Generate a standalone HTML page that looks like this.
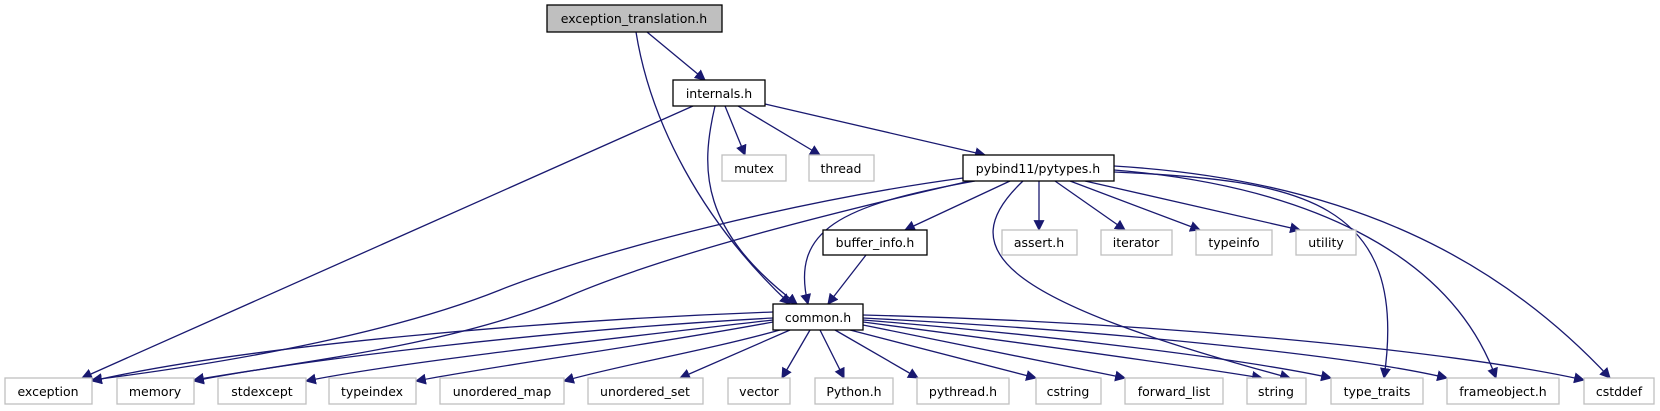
<!DOCTYPE html>
<html><head><meta charset="utf-8"><style>
html,body{margin:0;padding:0;background:#fff;}
svg{display:block;}
text{font-family:"DejaVu Sans","Liberation Sans",sans-serif;font-size:12.5px;text-anchor:middle;fill:#000;}
.e{fill:none;stroke:#191970;stroke-width:1.3;}
.n{fill:#fff;stroke:#000;stroke-width:1.3;}
.g{fill:#fff;stroke:#bfbfbf;stroke-width:1.3;}
</style></head><body>
<svg width="1660" height="411" viewBox="0 0 1660 411">
<defs><marker id="a" viewBox="0 0 10 10" refX="9" refY="5" markerWidth="11" markerHeight="11" markerUnits="userSpaceOnUse" orient="auto"><path d="M0,0 L10,5 L0,10 z" fill="#191970"/></marker></defs>
<g class="e" marker-end="url(#a)">
<path d="M647,32 L705,80"/>
<path d="M636,32 C650,120 700,220 790,304"/>
<path d="M693,106 L82,378"/>
<path d="M715,106 C700,170 700,230 797,304"/>
<path d="M725,106 L745,155"/>
<path d="M738,106 L820,155"/>
<path d="M765,104 L985,155"/>
<path d="M963,178 C800,200 600,250 500,290 C400,330 250,360 92,380"/>
<path d="M970,181 C800,220 650,260 560,300 C450,345 300,362 194,380"/>
<path d="M975,181 C840,205 790,230 808,304"/>
<path d="M1010,181 L905,230"/>
<path d="M1023,181 C950,250 1000,300 1290,378"/>
<path d="M1039,181 L1039,230"/>
<path d="M1055,181 L1125,230"/>
<path d="M1070,181 L1200,230"/>
<path d="M1085,181 L1300,230"/>
<path d="M1114,172 C1300,180 1410,200 1384,378"/>
<path d="M1114,170 C1300,185 1450,250 1496,378"/>
<path d="M1114,166 C1350,180 1500,260 1610,378"/>
<path d="M866,255 L828,304"/>
<path d="M773,312 C550,320 250,345 92,381"/>
<path d="M773,318 C550,330 300,360 194,381"/>
<path d="M773,320 C600,340 400,362 306,381"/>
<path d="M773,322 C650,345 500,365 416,381"/>
<path d="M780,330 C700,352 620,365 564,381"/>
<path d="M790,330 L680,378"/>
<path d="M810,330 L782,378"/>
<path d="M820,330 L844,378"/>
<path d="M835,330 L918,378"/>
<path d="M850,330 L1036,378"/>
<path d="M863,325 L1125,378"/>
<path d="M863,322 C1000,340 1150,360 1262,378"/>
<path d="M863,320 C1050,335 1250,360 1331,378"/>
<path d="M863,318 C1100,330 1350,355 1447,378"/>
<path d="M863,315 C1150,322 1450,350 1584,380"/>
</g>
<rect x="547" y="5" width="175" height="27" fill="#bfbfbf" stroke="#000" stroke-width="1.3"/><text x="634" y="23">exception_translation.h</text>
<rect class="n" x="673" y="80" width="92" height="26"/><text x="719" y="98">internals.h</text>
<rect class="g" x="722" y="155" width="64" height="26"/><text x="754" y="173">mutex</text>
<rect class="g" x="809" y="155" width="65" height="26"/><text x="841" y="173">thread</text>
<rect class="n" x="963" y="155" width="151" height="26"/><text x="1038" y="173">pybind11/pytypes.h</text>
<rect class="n" x="823" y="230" width="104" height="25"/><text x="875" y="247">buffer_info.h</text>
<rect class="g" x="1002" y="230" width="75" height="25"/><text x="1039" y="247">assert.h</text>
<rect class="g" x="1101" y="230" width="71" height="25"/><text x="1136" y="247">iterator</text>
<rect class="g" x="1196" y="230" width="76" height="25"/><text x="1234" y="247">typeinfo</text>
<rect class="g" x="1296" y="230" width="60" height="25"/><text x="1326" y="247">utility</text>
<rect class="n" x="773" y="304" width="90" height="26"/><text x="818" y="322">common.h</text>
<g>
<rect class="g" x="5" y="378" width="87" height="26"/><text x="48" y="396">exception</text>
<rect class="g" x="117" y="378" width="77" height="26"/><text x="155" y="396">memory</text>
<rect class="g" x="218" y="378" width="88" height="26"/><text x="262" y="396">stdexcept</text>
<rect class="g" x="329" y="378" width="87" height="26"/><text x="372" y="396">typeindex</text>
<rect class="g" x="440" y="378" width="124" height="26"/><text x="502" y="396">unordered_map</text>
<rect class="g" x="588" y="378" width="115" height="26"/><text x="645" y="396">unordered_set</text>
<rect class="g" x="728" y="378" width="62" height="26"/><text x="759" y="396">vector</text>
<rect class="g" x="815" y="378" width="78" height="26"/><text x="854" y="396">Python.h</text>
<rect class="g" x="917" y="378" width="92" height="26"/><text x="963" y="396">pythread.h</text>
<rect class="g" x="1036" y="378" width="65" height="26"/><text x="1068" y="396">cstring</text>
<rect class="g" x="1125" y="378" width="98" height="26"/><text x="1174" y="396">forward_list</text>
<rect class="g" x="1247" y="378" width="59" height="26"/><text x="1276" y="396">string</text>
<rect class="g" x="1331" y="378" width="92" height="26"/><text x="1377" y="396">type_traits</text>
<rect class="g" x="1447" y="378" width="112" height="26"/><text x="1503" y="396">frameobject.h</text>
<rect class="g" x="1584" y="378" width="70" height="26"/><text x="1619" y="396">cstddef</text>
</g>
</svg>
</body></html>
